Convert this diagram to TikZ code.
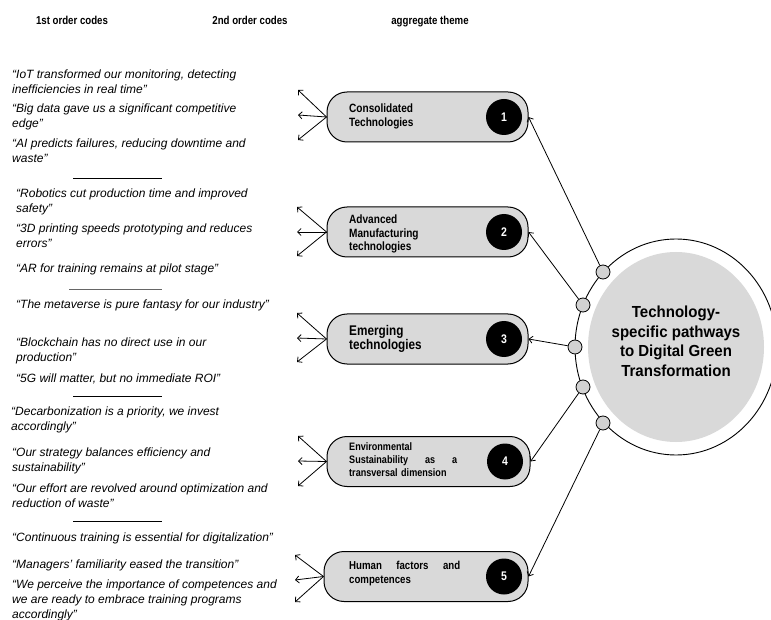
\documentclass[tikz,border=0pt]{standalone}
\usepackage{fontspec}
\setmainfont{Liberation Sans}
\newfontfamily\condfont[FakeStretch=0.84]{Liberation Sans}
\newfontfamily\semicondfont[FakeStretch=0.94]{Liberation Sans}
\usetikzlibrary{arrows.meta}
\definecolor{boxgray}{HTML}{D9D9D9}
\begin{document}
\begin{tikzpicture}[x=1pt,y=-1pt,
  header/.style={font=\condfont\bfseries\fontsize{11.5}{13}\selectfont, inner sep=0},
  quote/.style={anchor=north west, inner sep=0, align=left, font=\itshape\fontsize{12}{15}\selectfont},
  sepline/.style={line width=0.9pt},
  codebox/.style={draw=black, line width=1pt, fill=boxgray, rounded corners=20pt, minimum height=50pt, inner sep=0},
  boxtext/.style={anchor=west, inner sep=0, align=left, font=\condfont\bfseries\fontsize{12}{14}\selectfont},
  numc/.style={circle, fill=black, minimum size=36pt, inner sep=0, text=white, font=\condfont\bfseries\fontsize{12.5}{14}\selectfont},
  ringc/.style={circle, draw=black, line width=0.8pt, fill=gray!35, minimum size=14pt, inner sep=0},
  conn/.style={line width=0.8pt, -{Straight Barb[length=3.5pt,width=7pt]}}
]
\useasboundingbox (0,0) rectangle (771,620);

% headers
\node[header] (h1) at (72,20) {1st order codes};
\node[header] (h2) at (250,20) {2nd order codes};
\node[header] (h3) at (430,22) {aggregate theme};

% quotes
\node[quote] (q1) at (12,67.5) {\strut“IoT transformed our monitoring, detecting\\inefficiencies in real time”};
\node[quote] (q2) at (12,101.5) {\strut“Big data gave us a significant competitive\\edge”};
\node[quote] (q3) at (12,136.5) {\strut“AI predicts failures, reducing downtime and\\waste”};
\draw[sepline] (73,178) coordinate (s1a) -- (162,178) coordinate (s1b);
\node[quote] (q4) at (16,186.5) {\strut“Robotics cut production time and improved\\safety”};
\node[quote] (q5) at (16,221.5) {\strut“3D printing speeds prototyping and reduces\\errors”};
\node[quote] (q6) at (16,261.5) {\strut“AR for training remains at pilot stage”};
\draw[sepline, draw=black!60] (69,289) coordinate (s2a) -- (162,289) coordinate (s2b);
\node[quote] (q7) at (16,297.5) {\strut“The metaverse is pure fantasy for our industry”};
\node[quote] (q8) at (16,335.5) {\strut“Blockchain has no direct use in our\\production”};
\node[quote] (q9) at (16,371.5) {\strut“5G will matter, but no immediate ROI”};
\draw[sepline] (73,396) coordinate (s3a) -- (162,396) coordinate (s3b);
\node[quote] (q10) at (11,404.5) {\strut“Decarbonization is a priority, we invest\\accordingly”};
\node[quote] (q11) at (12,445.5) {\strut“Our strategy balances efficiency and\\sustainability”};
\node[quote] (q12) at (12,481.5) {\strut“Our effort are revolved around optimization and\\reduction of waste”};
\draw[sepline] (73,521) coordinate (s4a) -- (162,521) coordinate (s4b);
\node[quote] (q13) at (12,530.5) {\strut“Continuous training is essential for digitalization”};
\node[quote] (q14) at (12,557.5) {\strut“Managers’ familiarity eased the transition”};
\node[quote, font=\itshape\fontsize{12}{14.6}\selectfont] (q15) at (12,578.5) {\strut“We perceive the importance of competences and\\we are ready to embrace training programs\\accordingly”};

% code boxes
\node[codebox, minimum width=201pt] (b1) at (427.5,117) {};
\node[codebox, minimum width=201pt] (b2) at (427.5,232) {};
\node[codebox, minimum width=201pt] (b3) at (427.5,339) {};
\node[codebox, minimum width=203pt] (b4) at (428.5,461.5) {};
\node[codebox, minimum width=204pt] (b5) at (426,576.5) {};

\node[boxtext] (t1) at (349,116) {Consolidated\\Technologies};
\node[boxtext, font=\condfont\bfseries\fontsize{12}{13.5}\selectfont] (t2) at (349,234) {Advanced\\Manufacturing\\technologies};
\node[boxtext, font=\condfont\bfseries\fontsize{14}{14}\selectfont] (t3) at (349,339) {Emerging\\technologies};
\node[boxtext, text width=108pt, font=\condfont\bfseries\fontsize{10.8}{13}\selectfont] (t4) at (349,460) {Environmental\\Sustainability\hfill as\hfill a\\transversal dimension};
\node[boxtext, text width=111pt, font=\condfont\bfseries\fontsize{11.5}{14}\selectfont] (t5) at (349,574) {Human\hfill factors\hfill and\\competences};

\node[numc] (n1) at (504,117) {1};
\node[numc] (n2) at (504,232) {2};
\node[numc] (n3) at (504,339) {3};
\node[numc] (n4) at (505,461.5) {4};
\node[numc] (n5) at (504,576.5) {5};

% left fans
\foreach \b/\y/\xa/\ya/\yb/\yc in {b1/117/298/90/115/140, b2/232/297/207/232/256, b3/339/297/313/338/362, b4/461.5/298/436/461/486, b5/576.5/295/555/580/602}{
  \coordinate (\b fa) at (\xa,\ya);
  \coordinate (\b fb) at (\xa,\yb);
  \coordinate (\b fc) at (\xa,\yc);
  \draw[conn] (\b.west) -- (\b fa);
  \draw[conn] (\b.west) -- (\b fb);
  \draw[conn] (\b.west) -- (\b fc);
}

% aggregate theme
\draw[line width=0.9pt] (676,347) ellipse [x radius=101, y radius=108];
\fill[boxgray] (676,347) ellipse [x radius=88, y radius=95];
\node[font=\semicondfont\bfseries\fontsize{16}{19.5}\selectfont, align=center, inner sep=0] (theme) at (676,341.5) {Technology-\\specific pathways\\to Digital Green\\Transformation};

\node[ringc] (r1) at (603,272) {};
\node[ringc] (r2) at (583,305) {};
\node[ringc] (r3) at (575,347) {};
\node[ringc] (r4) at (583,387) {};
\node[ringc] (r5) at (603,423) {};

\draw[conn] (r1) -- (b1.east);
\draw[conn] (r2) -- (b2.east);
\draw[conn] (r3) -- (b3.east);
\draw[conn] (r4) -- (b4.east);
\draw[conn] (r5) -- (b5.east);
\end{tikzpicture}
\end{document}
